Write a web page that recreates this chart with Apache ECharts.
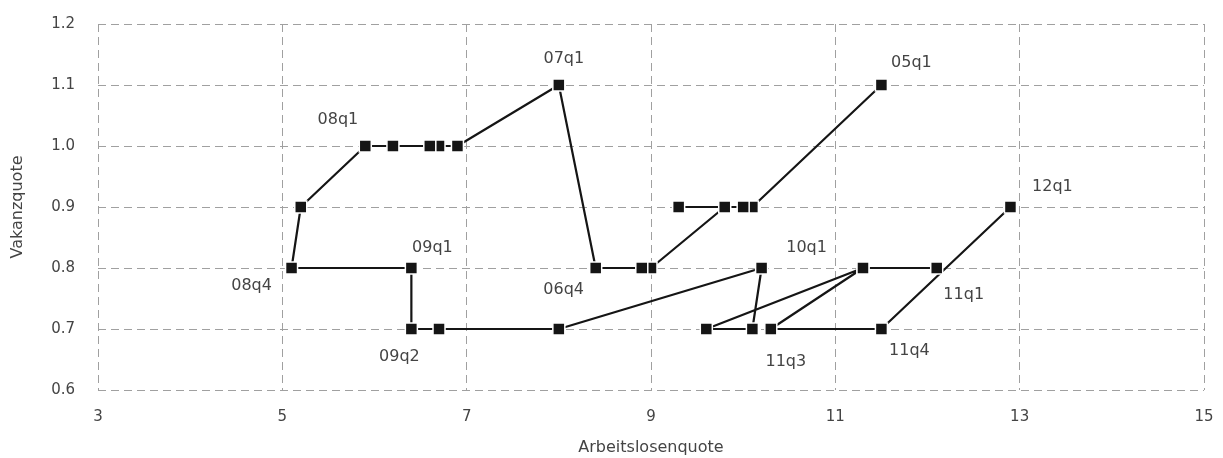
<!DOCTYPE html>
<html>
<head>
<meta charset="utf-8">
<script src="https://cdn.jsdelivr.net/npm/echarts@6/dist/echarts.min.js"></script>
<style>html,body{margin:0;padding:0;background:#fff}#c{width:1223px;height:458px}</style>
</head>
<body>
<div id="c"></div>
<script>
// Data
var quarters = ['05q1','05q2','05q3','05q4','06q1','06q2','06q3','06q4',
                '07q1','07q2','07q3','07q4','08q1','08q2','08q3','08q4',
                '09q1','09q2','09q3','09q4','10q1','10q2','10q3','10q4',
                '11q1','11q2','11q3','11q4','12q1'];
var unemployment = [11.5,10.1,10.0,9.3,9.8,9.0,8.9,8.4,
                    8.0,6.9,6.7,6.6,6.2,5.9,5.2,5.1,
                    6.4,6.4,6.7,8.0,10.2,10.1,9.6,11.3,
                    12.1,11.3,10.3,11.5,12.9];
var vacancy = [1.1,0.9,0.9,0.9,0.9,0.8,0.8,0.8,
               1.1,1.0,1.0,1.0,1.0,1.0,0.9,0.8,
               0.8,0.7,0.7,0.7,0.8,0.7,0.7,0.8,
               0.8,0.8,0.7,0.7,0.9];
var labelledQuarters = ['05q1','06q4','07q1','08q1','08q4','09q1','09q2','10q1','11q1','11q3','11q4','12q1'];
var xTicks = [3,5,7,9,11,13,15];
var yTicks = [0.6,0.7,0.8,0.9,1.0,1.1,1.2];

// Label placement (style, not data)
var labelOffset = {
  '05q1':[30,-22],'07q1':[5,-26],'08q1':[-55,-26],'08q4':[-40,18],
  '09q1':[21,-20],'09q2':[-12,28],'06q4':[-32,22],'10q1':[45,-20],
  '11q1':[27,27],'11q3':[15,33],'11q4':[28,22],'12q1':[42,-20]
};

var FONT = 'DejaVu Sans';
var seriesData = quarters.map(function(q,i){
  var item = {name:q, value:[unemployment[i], vacancy[i]]};
  if (labelledQuarters.indexOf(q) >= 0) {
    item.label = {show:true, formatter:q};
  }
  return item;
});

var gridLine = {show:true, lineStyle:{color:'#a0a0a0', type:[8,5], width:1}};
var chart = echarts.init(document.getElementById('c'));
chart.setOption({
  animation:false,
  grid:{left:98, right:19, top:24, bottom:68, containLabel:false, outerBoundsMode:'none'},
  xAxis:{type:'value', min:xTicks[0], max:xTicks[xTicks.length-1], interval:xTicks[1]-xTicks[0],
    name:'Arbeitslosenquote', nameLocation:'middle', nameGap:50,
    nameTextStyle:{color:'#444', fontSize:16, fontFamily:FONT},
    axisLine:{show:false}, axisTick:{show:false},
    axisLabel:{color:'#444', fontSize:15, fontFamily:FONT, margin:20},
    splitLine:gridLine},
  yAxis:{type:'value', min:yTicks[0], max:yTicks[yTicks.length-1], interval:0.1,
    name:'Vakanzquote', nameLocation:'middle', nameGap:72, nameRotate:90,
    nameTextStyle:{color:'#444', fontSize:16, fontFamily:FONT},
    axisLine:{show:false}, axisTick:{show:false},
    axisLabel:{color:'#444', fontSize:15, fontFamily:FONT, margin:23,
      formatter:function(v){return v.toFixed(1);}},
    splitLine:gridLine},
  series:[{
    type:'line', data:seriesData, symbol:'rect', symbolSize:12,
    lineStyle:{color:'#151515', width:2.2},
    itemStyle:{color:'#151515', borderColor:'#fff', borderWidth:1.5},
    label:{show:false, position:'inside', color:'#444', fontSize:16, fontFamily:FONT,
      align:'center', verticalAlign:'middle'},
    labelLayout:function(params){
      var q = quarters[params.dataIndex];
      var o = labelOffset[q] || [0,0];
      return {dx:o[0], dy:o[1], hideOverlap:false};
    }
  }]
});
</script>
</body>
</html>
